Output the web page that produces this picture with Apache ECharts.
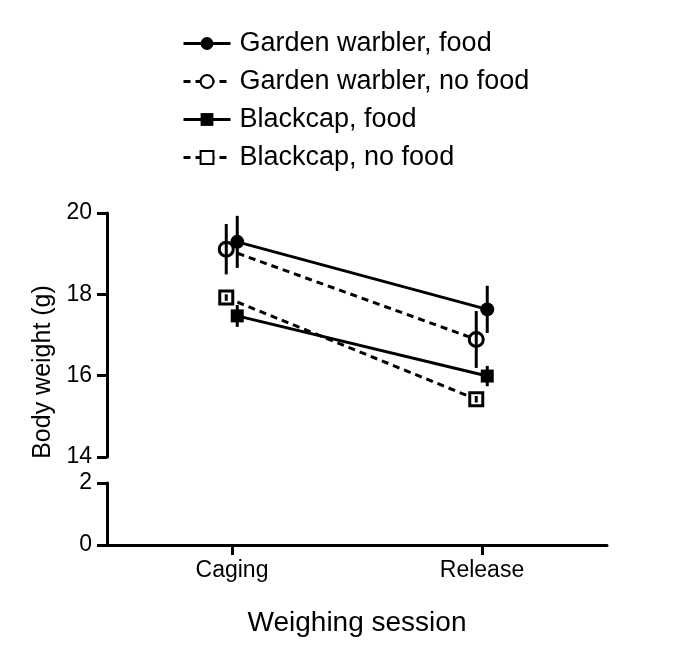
<!DOCTYPE html>
<html>
<head>
<meta charset="utf-8">
<script src="https://cdn.jsdelivr.net/npm/echarts@6/dist/echarts.min.js"></script>
<style>
  html, body { margin: 0; padding: 0; background: #fff; }
  #chart { width: 685px; height: 664px; }
</style>
</head>
<body>
<div id="chart"></div>
<script>
// Weighing sessions
const sessions = ['Caging', 'Release'];

// Mean body weight (g) per session
const gwFood = [19.29, 17.63];
const gwNoFood = [19.11, 16.89];
const bcFood = [17.47, 15.99];
const bcNoFood = [17.92, 15.42];

// Error bar half-lengths (g)
const gwFoodErr = [0.64, 0.58];
const gwNoFoodErr = [0.62, 0.70];
const bcFoodErr = [0.27, 0.25];
const bcNoFoodErr = [0.08, 0.08];

const upperTicks = [14, 20];
const lowerTicks = [0, 2];

const font = 'Liberation Sans, Arial, sans-serif';
const ink = '#000';

// small horizontal dodge so the groups do not overlap
const DODGE_FOOD = 0.021;
const DODGE_NOFOOD = -0.023;

function points(vals, dodge) {
  return vals.map((v, i) => [i + 0.5 + dodge, v]);
}

function errPoints(vals, errs, dodge) {
  return vals.map((v, i) => [i + 0.5 + dodge, v - errs[i], v + errs[i]]);
}

function lineSeries(name, vals, dodge, symbol, filled, dashed) {
  return {
    name: name,
    type: 'line',
    xAxisIndex: 0,
    yAxisIndex: 0,
    data: points(vals, dodge),
    symbol: symbol,
    symbolSize: symbol === 'rect' ? 13 : 14,
    showAllSymbol: true,
    lineStyle: { color: ink, width: 3, type: dashed ? [7, 5] : 'solid' },
    itemStyle: {
      color: filled ? ink : '#fff',
      borderColor: ink,
      borderWidth: filled ? 0 : 3
    },
    emphasis: { disabled: true },
    z: 3
  };
}

function errSeries(vals, errs, dodge) {
  return {
    type: 'custom',
    xAxisIndex: 0,
    yAxisIndex: 0,
    data: errPoints(vals, errs, dodge),
    renderItem: function (params, api) {
      const lo = api.coord([api.value(0), api.value(1)]);
      const hi = api.coord([api.value(0), api.value(2)]);
      return {
        type: 'line',
        shape: { x1: lo[0], y1: lo[1], x2: hi[0], y2: hi[1] },
        style: { stroke: ink, lineWidth: 3 }
      };
    },
    silent: true,
    z: 4
  };
}

const chart = echarts.init(document.getElementById('chart'));

const axisLine = { show: true, lineStyle: { color: ink, width: 3 } };
const axisTick = { show: true, length: 10, lineStyle: { color: ink, width: 3 } };

chart.setOption({
  animation: false,
  textStyle: { fontFamily: font },
  legend: {
    orient: 'vertical',
    left: 177,
    top: 25,
    itemWidth: 47,
    itemHeight: 16,
    itemGap: 11,
    lineStyle: { width: 3 },
    textStyle: { fontSize: 27, color: ink, fontFamily: font, padding: [0, 0, 0, 4] },
    data: ['Garden warbler, food', 'Garden warbler, no food', 'Blackcap, food', 'Blackcap, no food']
  },
  grid: [
    { left: 107, width: 500, top: 213, height: 244 },
    { left: 107, width: 500, top: 483, height: 62 }
  ],
  xAxis: [
    { gridIndex: 0, type: 'value', min: 0, max: 2, show: false },
    {
      gridIndex: 1,
      type: 'category',
      data: sessions,
      boundaryGap: true,
      axisLine: axisLine,
      axisTick: { show: true, alignWithLabel: true, length: 10, lineStyle: { color: ink, width: 3 } },
      axisLabel: { fontSize: 23, color: ink, margin: 14, fontFamily: font },
      name: 'Weighing session',
      nameLocation: 'middle',
      nameGap: 64,
      nameTextStyle: { fontSize: 28, color: ink, fontFamily: font }
    }
  ],
  yAxis: [
    {
      gridIndex: 0,
      type: 'value',
      min: upperTicks[0],
      max: upperTicks[1],
      interval: 2,
      axisLine: axisLine,
      axisTick: axisTick,
      splitLine: { show: false },
      axisLabel: { fontSize: 23, color: ink, margin: 15, fontFamily: font }
    },
    {
      gridIndex: 1,
      type: 'value',
      min: lowerTicks[0],
      max: lowerTicks[1],
      interval: 2,
      axisLine: axisLine,
      axisTick: axisTick,
      splitLine: { show: false },
      axisLabel: { fontSize: 23, color: ink, margin: 15, fontFamily: font }
    }
  ],
  graphic: [
    {
      type: 'text',
      x: 43,
      y: 372,
      rotation: Math.PI / 2,
      style: {
        text: 'Body weight (g)',
        font: '25px ' + font,
        fill: ink,
        textAlign: 'center',
        textVerticalAlign: 'middle'
      }
    }
  ],
  series: [
    lineSeries('Garden warbler, food', gwFood, DODGE_FOOD, 'circle', true, false),
    lineSeries('Garden warbler, no food', gwNoFood, DODGE_NOFOOD, 'circle', false, true),
    lineSeries('Blackcap, food', bcFood, DODGE_FOOD, 'rect', true, false),
    lineSeries('Blackcap, no food', bcNoFood, DODGE_NOFOOD, 'rect', false, true),
    errSeries(gwFood, gwFoodErr, DODGE_FOOD),
    errSeries(gwNoFood, gwNoFoodErr, DODGE_NOFOOD),
    errSeries(bcFood, bcFoodErr, DODGE_FOOD),
    errSeries(bcNoFood, bcNoFoodErr, DODGE_NOFOOD)
  ]
});
</script>
</body>
</html>
